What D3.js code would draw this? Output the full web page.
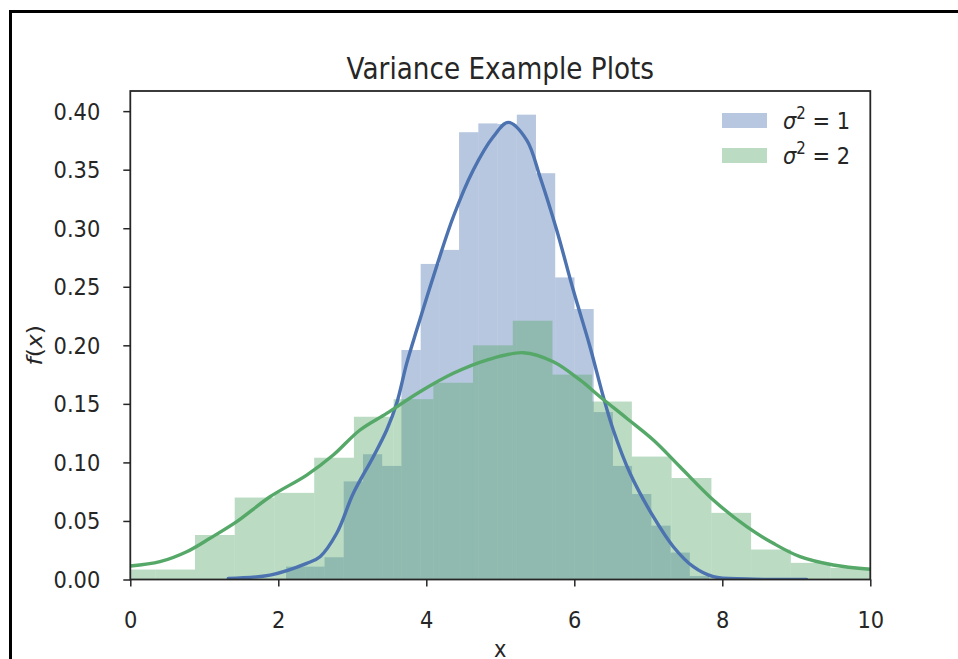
<!DOCTYPE html>
<html>
<head>
<meta charset="utf-8">
<script src="https://cdn.jsdelivr.net/npm/d3@7"></script>
<style>
  html, body { margin: 0; padding: 0; background: #fff; }
  svg { display: block; }
  text { font-family: "DejaVu Sans", sans-serif; fill: #262626; }
</style>
</head>
<body>
<svg id="chart" width="958" height="659"></svg>
<script>
// Histogram bin left edges and densities for the two samples
const blueEdges = [2.105, 2.365, 2.625, 2.884, 3.144, 3.404, 3.664, 3.924, 4.183, 4.443, 4.703,
                   4.963, 5.223, 5.482, 5.742, 6.002, 6.262, 6.522, 6.781, 7.041, 7.301, 7.561, 7.821];
const blueDensity = [0.011, 0.011, 0.019, 0.0838, 0.107, 0.097, 0.196, 0.2695, 0.2815, 0.382, 0.3895,
                     0.389, 0.397, 0.347, 0.258, 0.231, 0.143, 0.097, 0.073, 0.046, 0.023, 0.003];

const greenEdges = [-0.199, 0.338, 0.874, 1.411, 1.947, 2.485, 3.022, 3.558, 4.095, 4.631,
                    5.169, 5.705, 6.242, 6.778, 7.315, 7.853, 8.389, 8.926, 9.462, 9.999];
const greenDensity = [0.0085, 0.0085, 0.038, 0.070, 0.074, 0.104, 0.139, 0.154, 0.168, 0.200,
                      0.221, 0.175, 0.152, 0.105, 0.0867, 0.0569, 0.0256, 0.0142, 0.010];

// Kernel density estimates (x, f(x))
const blueKdeX = [1.324, 1.888, 2.384, 2.564, 2.789, 3.014, 3.284, 3.465, 3.6, 3.735, 3.870, 4.095, 4.365,
                  4.635, 4.905, 5.108, 5.357, 5.536, 5.762, 5.986, 6.212, 6.392, 6.527, 6.753, 7.068,
                  7.338, 7.608, 7.878, 8.33, 9.14];
const blueKdeY = [0.001, 0.0038, 0.0138, 0.0195, 0.0395, 0.0736, 0.1049, 0.1277, 0.1505, 0.1846, 0.213,
                  0.2586, 0.3098, 0.3497, 0.3781, 0.3904, 0.3753, 0.344, 0.2985, 0.2472, 0.1988, 0.1561,
                  0.1277, 0.0907, 0.0536, 0.028, 0.0109, 0.0024, 0.0004, 0.0];

const greenKdeX = [0, 0.401, 0.762, 1.077, 1.438, 1.888, 2.384, 2.743, 3.104, 3.465, 3.915, 4.365, 4.816,
                   5.311, 5.716, 6.077, 6.347, 6.708, 7.068, 7.428, 7.878, 8.33, 8.689, 9.05, 9.5, 10];
const greenKdeY = [0.0115, 0.0152, 0.0237, 0.0352, 0.0494, 0.0707, 0.0892, 0.1063, 0.1277, 0.1419, 0.1604,
                   0.1761, 0.1874, 0.1937, 0.186, 0.1704, 0.1561, 0.1377, 0.1191, 0.0963, 0.0679, 0.0451,
                   0.0309, 0.0195, 0.0124, 0.0087];

const xTicks = [0, 2, 4, 6, 8, 10];
const yTicks = [0.00, 0.05, 0.10, 0.15, 0.20, 0.25, 0.30, 0.35, 0.40];
const seriesNames = ["1", "2"];
const seriesColors = ["#4C72B0", "#55A868"];

const svg = d3.select("#chart");
const margin = { left: 130.3, right: 958 - 870.3, top: 91, bottom: 659 - 579.5 };
const width = 958 - margin.left - margin.right;
const height = 659 - margin.top - margin.bottom;

// Outer frame around the figure
svg.append("path")
  .attr("d", "M10.5,670 V11.5 H970")
  .attr("fill", "none").attr("stroke", "#000").attr("stroke-width", 3);

const x = d3.scaleLinear().domain([0, 10]).range([margin.left, margin.left + width]);
const y = d3.scaleLinear().domain([0, 0.4172]).range([margin.top + height, margin.top]);

svg.append("defs").append("clipPath").attr("id", "plotclip")
  .append("rect").attr("x", margin.left).attr("y", margin.top).attr("width", width).attr("height", height);

const plot = svg.append("g").attr("clip-path", "url(#plotclip)");

function bars(edges, dens, color) {
  const bins = dens.map((d, i) => ({ x0: edges[i], x1: edges[i + 1], v: d }));
  plot.append("g").selectAll("rect").data(bins).join("rect")
    .attr("x", d => x(d.x0))
    .attr("width", d => x(d.x1) - x(d.x0))
    .attr("y", d => y(d.v))
    .attr("height", d => y(0) - y(d.v))
    .attr("fill", color)
    .attr("fill-opacity", 0.4);
}
function kde(xs, ys, color) {
  const line = d3.line().x(d => x(d[0])).y(d => y(d[1])).curve(d3.curveCatmullRom.alpha(0.5));
  plot.append("path").datum(xs.map((v, i) => [v, ys[i]]))
    .attr("d", line).attr("fill", "none").attr("stroke", color)
    .attr("stroke-width", 3.4).attr("stroke-linejoin", "round").attr("stroke-linecap", "round");
}

bars(blueEdges, blueDensity, seriesColors[0]);
bars(greenEdges, greenDensity, seriesColors[1]);
kde(blueKdeX, blueKdeY, seriesColors[0]);
kde(greenKdeX, greenKdeY, seriesColors[1]);

// Spines
svg.append("rect")
  .attr("x", margin.left).attr("y", margin.top).attr("width", width).attr("height", height)
  .attr("fill", "none").attr("stroke", "#262626").attr("stroke-width", 1.8);

const tickFont = 21;
const stretch = "scale(1,1.12)";

// x axis
const xAxis = svg.append("g").attr("transform", `translate(0,${margin.top + height})`)
  .call(d3.axisBottom(x).tickValues(xTicks).tickSize(7).tickPadding(0).tickFormat(d3.format("d")));
xAxis.select(".domain").remove();
xAxis.selectAll(".tick line").attr("stroke", "#262626").attr("stroke-width", 1.5);
xAxis.selectAll(".tick text").attr("font-size", tickFont).attr("dy", null).attr("y", 0)
  .attr("font-family", "DejaVu Sans").attr("fill", "#262626")
  .attr("transform", "translate(0,48) " + stretch);

// y axis
const yAxis = svg.append("g").attr("transform", `translate(${margin.left},0)`)
  .call(d3.axisLeft(y).tickValues(yTicks).tickSize(7).tickPadding(0).tickFormat(d3.format(".2f")));
yAxis.select(".domain").remove();
yAxis.selectAll(".tick line").attr("stroke", "#262626").attr("stroke-width", 1.5);
yAxis.selectAll(".tick text").attr("font-size", tickFont).attr("dy", null).attr("x", 0).attr("y", 0)
  .attr("font-family", "DejaVu Sans").attr("fill", "#262626")
  .attr("transform", "translate(-30,8) " + stretch);

// Title
svg.append("text").attr("transform", `translate(${x(5)},79) ${stretch}`)
  .attr("text-anchor", "middle").attr("font-size", 26.3).text("Variance Example Plots");

// Axis labels
svg.append("text").attr("transform", `translate(${x(5)},657) ${stretch}`)
  .attr("text-anchor", "middle").attr("font-size", 21).text("x");
const yl = svg.append("text").attr("transform", `translate(42,${y(0.2)}) rotate(-90) scale(1.12,1)`)
  .attr("text-anchor", "middle").attr("font-size", 21);
yl.append("tspan").attr("font-style", "italic").text("f");
yl.append("tspan").text("(");
yl.append("tspan").attr("font-style", "italic").text("x");
yl.append("tspan").text(")");

// Legend
const legend = svg.append("g");
seriesNames.forEach((name, i) => {
  const ly = 121 + i * 35;
  legend.append("rect").attr("x", 722).attr("y", ly - 8).attr("width", 45).attr("height", 15)
    .attr("fill", seriesColors[i]).attr("fill-opacity", 0.4);
  const t = legend.append("text").attr("transform", `translate(783,${ly + 8}) ${stretch}`)
    .attr("font-size", 21);
  t.append("tspan").attr("font-style", "italic").text("σ");
  t.append("tspan").attr("font-size", 15).attr("dy", -9).text("2");
  t.append("tspan").attr("dy", 9).text(" = " + name);
});
</script>
</body>
</html>
